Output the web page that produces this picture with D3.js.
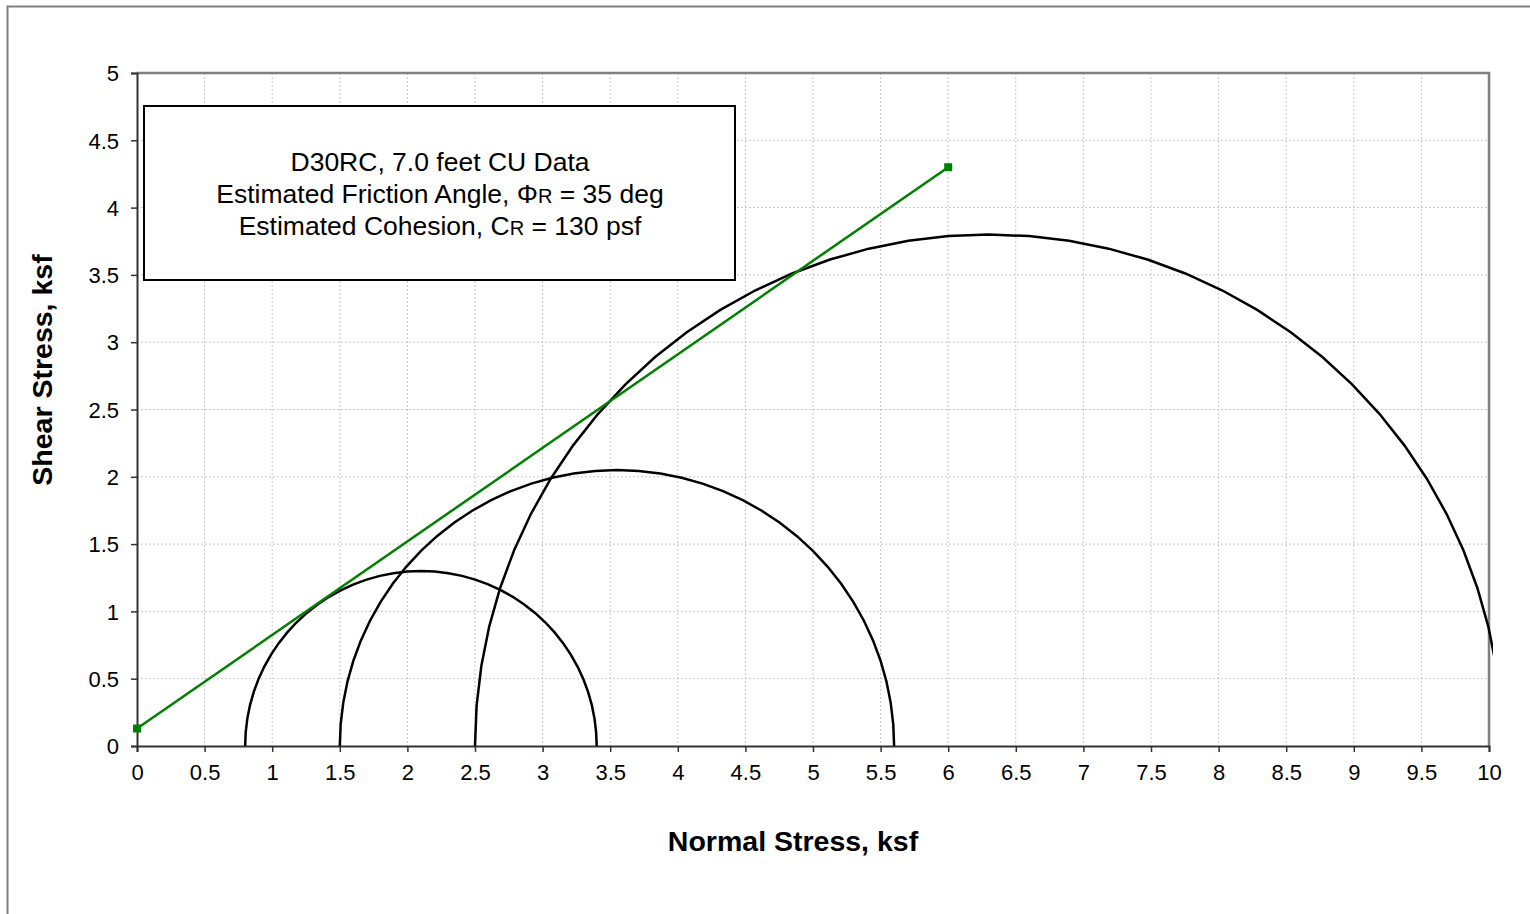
<!DOCTYPE html>
<html><head><meta charset="utf-8">
<script src="https://cdn.jsdelivr.net/npm/d3@7"></script>
<style>body{margin:0;background:#fff}svg{display:block}text{font-family:"Liberation Sans",Arial,sans-serif}</style>
</head><body>
<script>
// Mohr circles (principal stresses, ksf)
const sigma3 = [0.8, 1.5, 2.5];
const sigma1 = [3.4, 5.6, 10.1];
// Failure envelope endpoints
const envX = [0, 6];
const envY = [0.13, 4.3];
const xTicks = [0,0.5,1,1.5,2,2.5,3,3.5,4,4.5,5,5.5,6,6.5,7,7.5,8,8.5,9,9.5,10];
const yTicks = [0,0.5,1,1.5,2,2.5,3,3.5,4,4.5,5];
const noteLines = ["D30RC, 7.0 feet CU Data", "Estimated Friction Angle, ΦR = 35 deg", "Estimated Cohesion, CR = 130 psf"];

const W = 1530, H = 914;
const svg = d3.select("body").append("svg").attr("width", W).attr("height", H);
const L = 137, R = 1489, T = 73, B = 746;
const x = d3.scaleLinear().domain([0, 10]).range([L, R]);
const y = d3.scaleLinear().domain([0, 5]).range([B, T]);

// outer frame
svg.append("path").attr("d", `M7.5,914 V6.5 H1530`).attr("fill","none").attr("stroke","#808080").attr("stroke-width",2);

// grid
const g = svg.append("g");
g.selectAll(".vg").data(xTicks.slice(1)).enter().append("line")
  .attr("x1", d=>x(d)).attr("x2", d=>x(d)).attr("y1", T).attr("y2", B)
  .attr("stroke", "#c8c8c8").attr("stroke-width", 1).attr("stroke-dasharray", "2,2");
g.selectAll(".hg").data(yTicks.slice(1)).enter().append("line")
  .attr("x1", L).attr("x2", R).attr("y1", d=>y(d)).attr("y2", d=>y(d))
  .attr("stroke", "#c8c8c8").attr("stroke-width", 1).attr("stroke-dasharray", "2,2");

// plot border top/right gray
svg.append("path").attr("d", `M${L},${T} H${R} V${B}`).attr("fill","none").attr("stroke","#808080").attr("stroke-width",2.5);

// axes
const xAxis = d3.axisBottom(x).tickValues(xTicks).tickSize(6).tickFormat(d3.format("~g"));
const yAxis = d3.axisLeft(y).tickValues(yTicks).tickSize(6).tickFormat(d3.format("~g"));
const xa = svg.append("g").attr("transform", `translate(0,${B})`).call(xAxis);
const ya = svg.append("g").attr("transform", `translate(${L},0)`).call(yAxis);
[xa, ya].forEach(a => {
  a.select(".domain").attr("stroke", "#333").attr("stroke-width", 2);
  a.selectAll(".tick line").attr("stroke", "#333").attr("stroke-width", 1.5);
  a.selectAll("text").attr("font-size", 22).attr("fill", "#000").attr("font-family", '"Liberation Sans",Arial,sans-serif');
});
xa.selectAll("text").attr("dy", "0.71em").attr("y", 18);
ya.selectAll("text").attr("x", -18).attr("dy", "0.35em");

// text box
svg.append("rect").attr("x", 144).attr("y", 106).attr("width", 591).attr("height", 174)
  .attr("fill", "#fff").attr("stroke", "#000").attr("stroke-width", 2);
const nt = svg.append("text").attr("text-anchor", "middle").attr("font-size", 26.5).attr("fill", "#000");
const parts = [
  [["D30RC, 7.0 feet CU Data", false]],
  [["Estimated Friction Angle, Φ", false], ["R", true], [" = 35 deg", false]],
  [["Estimated Cohesion, C", false], ["R", true], [" = 130 psf", false]]
];
parts.forEach((p, i) => {
  const line = nt.append("tspan").attr("x", 440).attr("y", 171 + i * 32);
  p.forEach(([s, small]) => {
    line.append("tspan").text(s).attr("font-size", small ? 20 : 26.5);
  });
});

// clip
svg.append("clipPath").attr("id", "clip").append("rect").attr("x", L).attr("y", T - 5).attr("width", R - L + 4).attr("height", B - T + 5);

// circles
const lineGen = d3.line().x(d => x(d[0])).y(d => y(d[1]));
const cg = svg.append("g").attr("clip-path", "url(#clip)");
sigma3.forEach((s3, i) => {
  const s1 = sigma1[i];
  const c = (s1 + s3) / 2, r = (s1 - s3) / 2;
  const n = 40;
  const pts = d3.range(n + 1).map(k => {
    const a = Math.PI - Math.PI * k / n;
    return [c + r * Math.cos(a), r * Math.sin(a)];
  });
  cg.append("path").attr("d", lineGen(pts)).attr("fill", "none").attr("stroke", "#000").attr("stroke-width", 2.5);
});

// envelope
const env = envX.map((v, i) => [v, envY[i]]);
svg.append("path").attr("d", lineGen(env)).attr("fill", "none").attr("stroke", "#008000").attr("stroke-width", 2.5);
svg.selectAll(".mk").data(env).enter().append("rect")
  .attr("x", d => x(d[0]) - 4).attr("y", d => y(d[1]) - 4).attr("width", 8).attr("height", 8).attr("fill", "#008000");

// axis titles
svg.append("text").attr("x", 793).attr("y", 851).attr("text-anchor", "middle").attr("font-size", 28.5).attr("font-weight", "bold").text("Normal Stress, ksf");
svg.append("text").attr("transform", "translate(52,370) rotate(-90)").attr("text-anchor", "middle").attr("font-size", 28.5).attr("font-weight", "bold").text("Shear Stress, ksf");
</script>
</body></html>
